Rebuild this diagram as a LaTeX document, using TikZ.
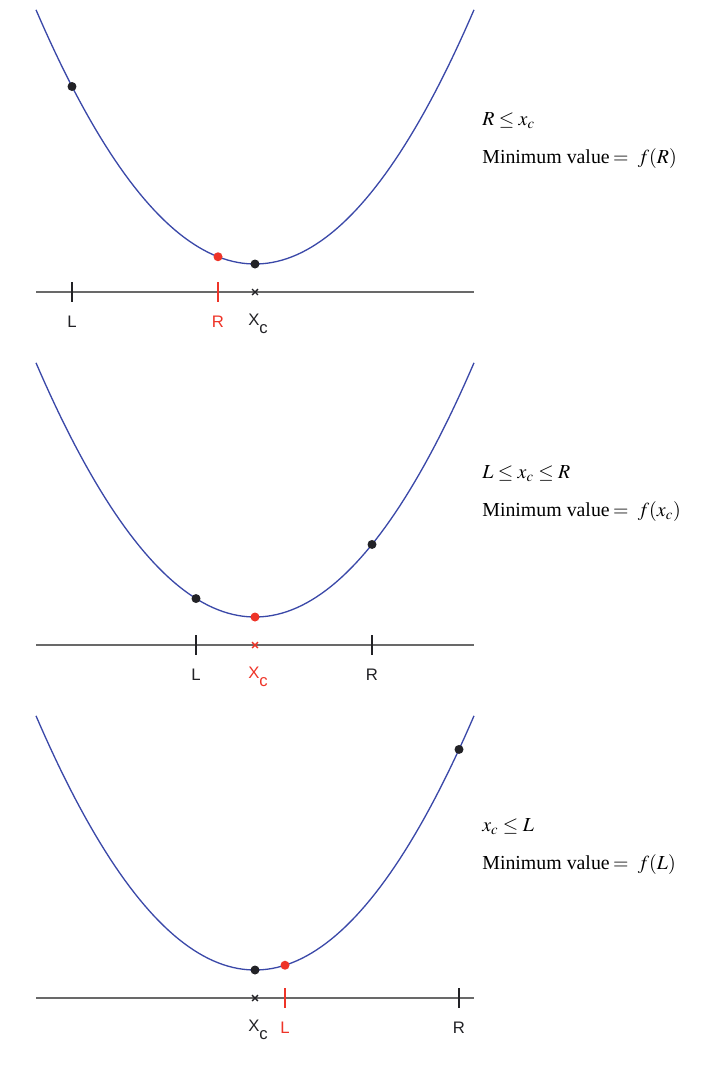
\documentclass[tikz,border=0pt]{standalone}
\usepackage{mathptmx}
\usepackage{fontspec}
\setmainfont{Liberation Serif}
\setsansfont{Liberation Sans}
\usetikzlibrary{shapes.misc}
\definecolor{curveBlue}{RGB}{58,72,168}
\definecolor{markRed}  {RGB}{238,52,40}
\definecolor{markDark} {RGB}{34,34,38}
\definecolor{axisGray} {RGB}{105,105,105}

\begin{document}
\begin{tikzpicture}[
      x=0.02cm, y=-0.02cm,
      declare function={py(\x)=264-(0.0728*(\x-255))^2;},
      curve/.style={draw=curveBlue, line width=0.75pt},
      axis/.style={draw=axisGray, line width=0.9pt},
      tick/.style={draw=#1, line width=1.2pt},
      dot/.style={circle, fill=#1, inner sep=0pt, minimum size=0.18cm},
      xmark/.style={cross out, draw=#1, line width=0.8pt,
                    minimum size=0.09cm, inner sep=0pt},
      axlbl/.style={font=\sffamily\fontsize{9.5}{11}\selectfont, text=#1},
      cond/.style={anchor=west, font=\fontsize{11.3}{13.6}\selectfont,
                   inner sep=0pt}]

    \useasboundingbox (0,0) rectangle (708,1082);

    % R <= xc
    \begin{scope}
      \draw[curve] plot[domain=36:474, samples=90] (\x, {py(\x)});
      \draw[axis] (36,292) -- (474,292);
      \draw[tick=markDark] (72,282) -- (72,302);
      \draw[tick=markRed] (218,282) -- (218,302);
      \node[xmark=markDark] (xc1) at (255,292) {};
      \node[dot=markDark] (pL1) at (72,{py(72)}) {};
      \node[dot=markRed] (pR1) at (218,{py(218)}) {};
      \node[dot=markDark] (pc1) at (255,{py(255)}) {};
      \node[axlbl=markDark] (lL1) at (72,322) {L};
      \node[axlbl=markRed] (lR1) at (218,322) {R};
      \node[axlbl=markDark] (lc1) at (258,324) {X\raisebox{-4.5pt}{c}};
      \node[cond] (cond1) at (482,121) {$R \le x_c$};
      \node[cond] (min1) at (482,159) {Minimum value\,$=\ f(R)$};
    \end{scope}

    % L <= xc <= R
    \begin{scope}[shift={(0,353)}]
      \draw[curve] plot[domain=36:474, samples=90] (\x, {py(\x)});
      \draw[axis] (36,292) -- (474,292);
      \draw[tick=markDark] (196,282) -- (196,302);
      \draw[tick=markDark] (372,282) -- (372,302);
      \node[xmark=markRed] (xc2) at (255,292) {};
      \node[dot=markDark] (pL2) at (196,{py(196)}) {};
      \node[dot=markDark] (pR2) at (372,{py(372)}) {};
      \node[dot=markRed] (pc2) at (255,{py(255)}) {};
      \node[axlbl=markDark] (lL2) at (196,322) {L};
      \node[axlbl=markDark] (lR2) at (372,322) {R};
      \node[axlbl=markRed] (lc2) at (258,324) {X\raisebox{-4.5pt}{c}};
      \node[cond] (cond2) at (482,121) {$L \le x_c \le R$};
      \node[cond] (min2) at (482,159) {Minimum value\,$=\ f(x_c)$};
    \end{scope}

    % xc <= L
    \begin{scope}[shift={(0,706)}]
      \draw[curve] plot[domain=36:474, samples=90] (\x, {py(\x)});
      \draw[axis] (36,292) -- (474,292);
      \draw[tick=markRed] (285,282) -- (285,302);
      \draw[tick=markDark] (459,282) -- (459,302);
      \node[xmark=markDark] (xc3) at (255,292) {};
      \node[dot=markRed] (pL3) at (285,{py(285)}) {};
      \node[dot=markDark] (pR3) at (459,{py(459)}) {};
      \node[dot=markDark] (pc3) at (255,{py(255)}) {};
      \node[axlbl=markRed] (lL3) at (285,322) {L};
      \node[axlbl=markDark] (lR3) at (459,322) {R};
      \node[axlbl=markDark] (lc3) at (258,324) {X\raisebox{-4.5pt}{c}};
      \node[cond] (cond3) at (482,121) {$x_c \le L$};
      \node[cond] (min3) at (482,159) {Minimum value\,$=\ f(L)$};
    \end{scope}
  \end{tikzpicture}
\end{document}
